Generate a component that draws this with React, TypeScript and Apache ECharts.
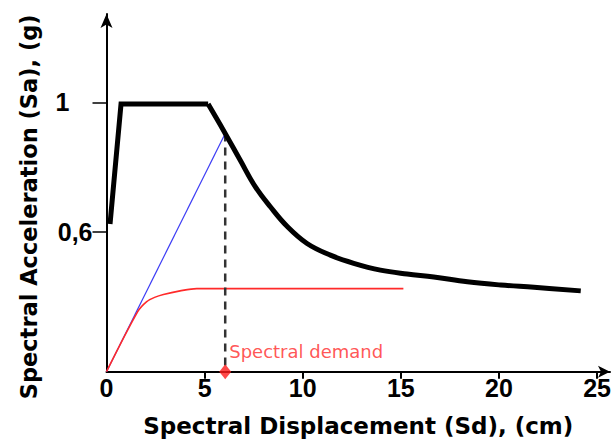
import React, { useEffect, useRef } from "react";
import * as echarts from "echarts";

const xTickLabels = [0, 5, 10, 15, 20, 25];
const xTicks = [5, 10, 15, 20, 25];
const yTickLabels = [0.6, 1];

// Capacity spectrum (black): rising branch and plateau
const capacityPlateau: [number, number][] = [
  [0.18, 0.625], [0.74, 0.995], [5.18, 0.995],
];
// Capacity spectrum (black): descending branch
const capacityDescent: [number, number][] = [
  [5.18, 0.995], [6.05, 0.904], [6.81, 0.822],
  [7.58, 0.74], [8.35, 0.678], [9.2, 0.618], [10.22, 0.565], [11.41, 0.529],
  [12.6, 0.504], [13.96, 0.483], [15.32, 0.471], [16.68, 0.462], [18.39, 0.447],
  [20.09, 0.437], [21.79, 0.43], [24.17, 0.419],
];
// Demand / pushover (red)
const demandCurve: [number, number][] = [
  [0, 0.17], [1.59, 0.355], [2.05, 0.386], [2.45, 0.399], [2.9, 0.408],
  [3.75, 0.419], [4.6, 0.426], [15.13, 0.426],
];
// Initial stiffness line (blue)
const stiffnessLine: [number, number][] = [[0, 0.17], [6.05, 0.904]];
// Performance point projection (dashed)
const projection: [number, number][] = [[6.05, 0.904], [6.05, 0.17]];
const demandPoint: [number, number][] = [[6.05, 0.17]];

const X_MIN = 0, X_MAX = 25.66, Y_MIN = 0.17, Y_MAX = 1.272;

export default function App() {
  const ref = useRef<HTMLDivElement>(null);
  useEffect(() => {
    const chart = echarts.init(ref.current!, null, { renderer: "svg" });
    chart.setOption({
      animation: false,
      backgroundColor: "#ffffff",
      grid: { left: 106.5, right: 6, top: 14, bottom: 76.3, outerBoundsMode: "none" },
      xAxis: {
        type: "value",
        min: X_MIN,
        max: X_MAX,
        name: "Spectral Displacement (Sd), (cm)",
        nameLocation: "middle",
        nameGap: 43,
        nameTextStyle: { fontFamily: "DejaVu Sans", fontWeight: "bold", fontSize: 23, color: "#000" },
        axisLine: { show: true, symbol: ["none", "arrow"], symbolSize: [9, 12], lineStyle: { color: "#000", width: 2 } },
        axisTick: { show: true, length: 7, customValues: xTicks, lineStyle: { color: "#000", width: 2 } },
        axisLabel: { customValues: xTickLabels, margin: 4, fontFamily: "Liberation Sans", fontWeight: "bold", fontSize: 25, color: "#000" },
        splitLine: { show: false },
      },
      yAxis: {
        type: "value",
        min: Y_MIN,
        max: Y_MAX,
        name: "Spectral Acceleration (Sa), (g)",
        nameLocation: "middle",
        nameGap: 66,
        nameTextStyle: { fontFamily: "DejaVu Sans", fontWeight: "bold", fontSize: 22.5, color: "#000", padding: [0, 28, 0, 0] },
        axisLine: { show: true, symbol: ["none", "arrow"], symbolSize: [9, 14], lineStyle: { color: "#000", width: 2 } },
        axisTick: { show: true, length: 14, customValues: yTickLabels, lineStyle: { color: "#000", width: 1.5 } },
        axisLabel: {
          customValues: yTickLabels,
          margin: 14,
          formatter: (v: number) => (v === 1 ? "{a|1}" : "{b|" + String(v).replace(".", ",") + "}"),
          rich: {
            a: { fontFamily: "Liberation Sans", fontWeight: "bold", fontSize: 25, color: "#000", padding: [0, 23, 0, 0] },
            b: { fontFamily: "Liberation Sans", fontWeight: "bold", fontSize: 25, color: "#000" },
          },
        },
        splitLine: { show: false },
      },
      series: [
        {
          type: "line", data: stiffnessLine, symbol: "none", clip: false,
          lineStyle: { color: "#3b3bf5", width: 1.2 }, z: 2,
        },
        {
          type: "line", data: demandCurve, symbol: "none", clip: false, smooth: 0.3,
          lineStyle: { color: "#ff2a2a", width: 1.6 }, z: 3,
        },
        {
          type: "line", data: projection, symbol: "none", clip: false,
          lineStyle: { color: "#333", width: 2.5, type: [8, 6] }, z: 3,
        },
        {
          type: "line", data: capacityPlateau, symbol: "none", clip: false,
          lineStyle: { color: "#000", width: 5, join: "miter" }, z: 4,
        },
        {
          type: "line", data: capacityDescent, symbol: "none", clip: false, smooth: 0.4,
          lineStyle: { color: "#000", width: 5, join: "round" }, z: 4,
        },
        {
          type: "scatter", data: demandPoint, symbol: "diamond", symbolSize: [12, 15], clip: false,
          itemStyle: { color: "#ff1a1a" }, z: 5,
          label: {
            show: true, position: "right", distance: 0, offset: [-2, -20],
            formatter: "Spectral demand",
            fontFamily: "DejaVu Sans", fontSize: 18, color: "#ff2a2a",
          },
        },
      ],
    });
    return () => chart.dispose();
  }, []);
  return <div ref={ref} style={{ width: 616, height: 448, position: "absolute", left: 0, top: 0 }} />;
}
